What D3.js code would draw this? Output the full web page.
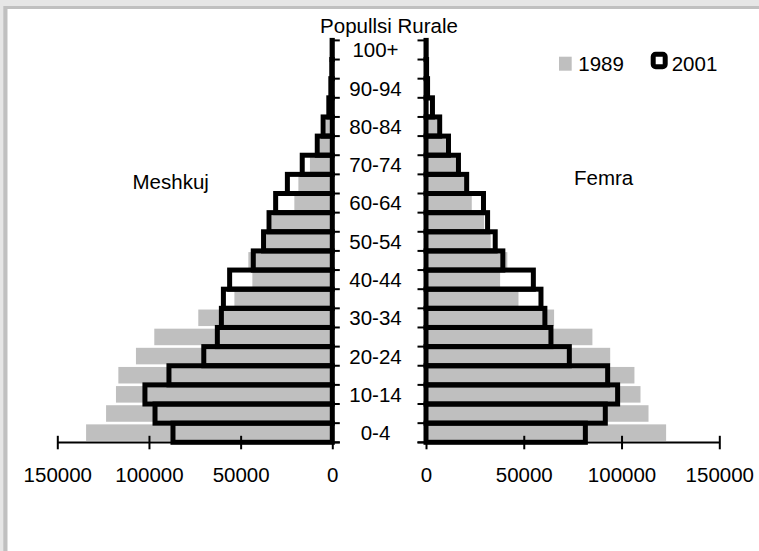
<!DOCTYPE html>
<html><head><meta charset="utf-8">
<script src="https://cdn.jsdelivr.net/npm/d3@7"></script>
<style>body{margin:0;background:#fff}svg{display:block}text{font-family:"Liberation Sans",Arial,sans-serif;fill:#000}</style>
</head><body>
<svg id="c" width="759" height="551"></svg>
<script>
const categories = ["0-4","5-9","10-14","15-19","20-24","25-29","30-34","35-39","40-44","45-49","50-54","55-59","60-64","65-69","70-74","75-79","80-84","85-89","90-94","95-99","100+"];
const male1989   = [134300,123400,118000,116700,107100,97100,73100,53400,43600,45800,36500,33000,20700,18500,12200,6700,3400,1200,500,200,100];
const male2001   = [86900,96700,102200,89100,70100,62700,60500,59400,56000,43100,37500,34500,30900,24500,16400,8200,5000,1900,800,300,100];
const female1989 = [122800,113800,109700,106600,94200,85100,65500,47300,37900,41600,33100,29700,23400,20000,15400,10200,5800,1500,500,200,100];
const female2001 = [81500,91700,98000,92900,73300,63900,60800,58800,54900,39300,35400,31500,29400,20800,16600,11500,7000,3300,800,300,100];
const xTicks = [0,50000,100000,150000];
const seriesNames = ["1989","2001"];
const title = "Popullsi Rurale";
const sideLabels = ["Meshkuj","Femra"];

const svg = d3.select("#c");
const FS = "20.5px";
// frame
svg.append("rect").attr("x",0).attr("y",0).attr("width",759).attr("height",551).attr("fill","#e6e6e6");
svg.append("rect").attr("x",3.3).attr("y",6).attr("width",800).attr("height",600).attr("fill","#c0c0c0");
svg.append("rect").attr("x",7.5).attr("y",9).attr("width",800).attr("height",600).attr("fill","#fff");

const y = d3.scaleBand().domain(categories).range([442.3, 40.4]).padding(0);
const xL = d3.scaleLinear().domain([0,150000]).range([332.3, 57.3]);
const xR = d3.scaleLinear().domain([0,150000]).range([426, 719.3]);
const bw = y.bandwidth();

function side(xs, v89, v01, left){
  const g = svg.append("g");
  const x0 = xs(0);
  // white fill of 2001
  g.selectAll(".w").data(categories).join("rect")
    .attr("x", (c,i)=> left ? xs(v01[i]) : x0)
    .attr("width", (c,i)=> Math.abs(xs(v01[i]) - x0))
    .attr("y", c=>y(c)).attr("height", bw).attr("fill","#fff");
  // 1989 gray
  g.selectAll(".g").data(categories).join("rect")
    .attr("x", (c,i)=> left ? xs(v89[i]) : x0)
    .attr("width", (c,i)=> Math.abs(xs(v89[i]) - x0))
    .attr("y", c=>y(c)+1.2).attr("height", bw-2.6).attr("fill","#bfbfbf");
  // 2001 outline
  g.selectAll(".b").data(categories).join("rect")
    .attr("x", (c,i)=> left ? xs(v01[i]) : x0)
    .attr("width", (c,i)=> Math.abs(xs(v01[i]) - x0))
    .attr("y", c=>y(c)).attr("height", bw)
    .attr("fill","none").attr("stroke","#000").attr("stroke-width",5);

  // x axis
  const ax = g.append("g").attr("transform","translate(0,442.3)")
    .call(d3.axisBottom(xs).tickValues(xTicks).tickFormat(d3.format("d")).tickSizeOuter(0).tickSize(7));
  ax.select(".domain").remove();
  ax.selectAll(".tick line").attr("y1",-6.5).attr("y2",7).attr("stroke","#000").attr("stroke-width",2);
  ax.selectAll(".tick text").attr("y",39.7).attr("dy",0).style("font-size",FS)
    .style("font-family",'"Liberation Sans",Arial,sans-serif').attr("fill","#000");
  const xe = left ? [xs(150000), x0+7.5] : [x0-8.5, xs(150000)];
  g.append("line").attr("x1",xe[0]).attr("x2",xe[1]).attr("y1",442.6).attr("y2",442.6)
    .attr("stroke","#000").attr("stroke-width",2);

  // category axis
  g.append("line").attr("x1",x0).attr("x2",x0).attr("y1",40.4).attr("y2",442.3)
    .attr("stroke","#000").attr("stroke-width",2.2);
  const bounds = categories.map(c=>y(c)).concat([y(categories[0])+bw]);
  g.selectAll(".t").data(bounds).join("line")
    .attr("x1",x0).attr("x2", left ? x0+7.5 : x0-8.5)
    .attr("y1",d=>d).attr("y2",d=>d).attr("stroke","#000").attr("stroke-width",2);
}
side(xL, male1989, male2001, true);
side(xR, female1989, female2001, false);

// category labels
svg.append("g").selectAll("text").data(categories.filter((c,i)=>i%2===0)).join("text")
  .attr("x",375.5).attr("y",c=>y(c)+bw/2).attr("dy","0.36em")
  .attr("text-anchor","middle").style("font-size",FS).text(c=>c);

svg.append("text").attr("x",389).attr("y",33).attr("text-anchor","middle").style("font-size",FS).text(title);
svg.append("text").attr("x",132.5).attr("y",188.7).style("font-size",FS).text(sideLabels[0]);
svg.append("text").attr("x",574).attr("y",184.8).style("font-size",FS).text(sideLabels[1]);

// legend
const lg = svg.append("g");
lg.append("rect").attr("x",559).attr("y",56.7).attr("width",12.7).attr("height",14).attr("fill","#bfbfbf");
lg.append("text").attr("x",578.3).attr("y",71.4).style("font-size",FS).text(seriesNames[0]);
lg.append("rect").attr("x",653.2).attr("y",54.2).attr("width",12).attr("height",12.6).attr("rx",2.5)
  .attr("fill","#fff").attr("stroke","#000").attr("stroke-width",5);
lg.append("text").attr("x",671.7).attr("y",71.4).style("font-size",FS).text(seriesNames[1]);
</script>
</body></html>
